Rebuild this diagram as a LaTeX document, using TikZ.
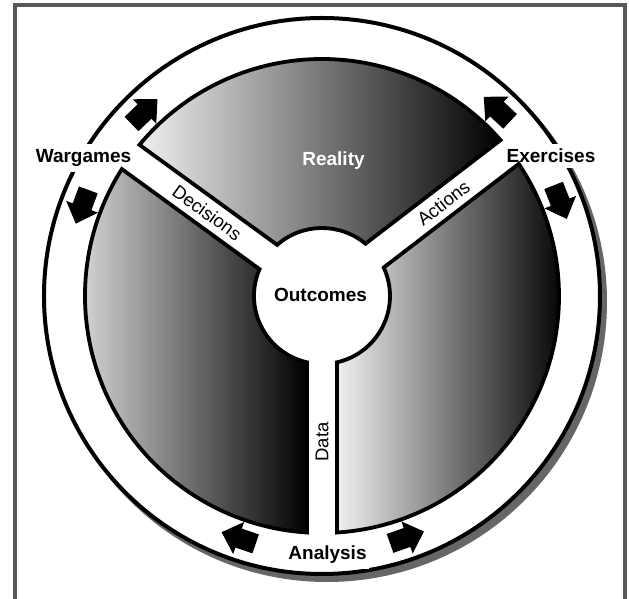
\documentclass[tikz,border=0pt]{standalone}
\usepackage{fontspec}
\setmainfont{Liberation Sans}

\begin{document}
\begin{tikzpicture}[
        x=1pt, y=1pt,
        frame/.style={draw=black!65, line width=3.5pt},
        ring/.style={draw=black, line width=4pt, fill=white},
        ringshadow/.style={fill=black!60},
        sector/.style={draw=black, line width=3.8pt, left color=black!6, right color=black},
        blockarrow/.style={fill=black},
        ringlabel/.style={fill=white, inner xsep=2pt, inner ysep=5pt, font=\bfseries\fontsize{19}{22}\selectfont},
        bigtext/.style={font=\bfseries\fontsize{19}{22}\selectfont},
        spoketext/.style={inner sep=1pt, font=\fontsize{18.5}{21}\selectfont}
    ]
    \useasboundingbox (-322,-303) rectangle (307,296);
    \draw[frame] (-307,-310) -- (-307,291) -- (303,291) -- (303,-310);

    % outer ring with its shadow
    \fill[ringshadow] (5,-6) circle (280);
    \draw[ring] (0,0) circle (278);

    \node[ringlabel] (wargames) at (-238.5,138) {Wargames};
    \node[ringlabel] (exercises) at (229,140) {Exercises};
    \node[ringlabel] (analysis) at (5.5,-259) {Analysis};

    % the three shaded sectors, cut by the spokes and the hub
    \foreach \from/\to in {37.5/144, 144/270, 270/397.5} {
        \pgfmathsetmacro{\ia}{\from+asin(15/68)}
        \pgfmathsetmacro{\oa}{\from+asin(15/237)}
        \pgfmathsetmacro{\ob}{\to-asin(15/237)}
        \pgfmathsetmacro{\ib}{\to-asin(15/68)}
        \draw[sector] (\ia:68) -- (\oa:237)
            arc[start angle=\oa, end angle=\ob, radius=237]
            -- (\ib:68) arc[start angle=\ib, end angle=\ia, radius=68] -- cycle;
    }

    % block arrows along the ring (-1 clockwise, 1 counter-clockwise)
    \foreach \ang/\dir in {133.9/-1, 159.6/1, 46.9/1, 21.5/-1, 251/-1, 289.4/1}
        \fill[blockarrow, shift={(\ang:256)}, rotate={\ang+\dir*90}]
            (-18,-10) -- (0,-10) -- (0,-17) -- (18,0) -- (0,17) -- (0,10) -- (-18,10) -- cycle;

    \node[bigtext, text=white] (reality) at (11.5,135) {Reality};
    \node[bigtext] (outcomes) at (-1.5,1) {Outcomes};
    \node[spoketext, rotate=-36] (decisions) at (144:142) {Decisions};
    \node[spoketext, rotate=37.5] (actions) at (37.5:153) {Actions};
    \node[spoketext, rotate=90] (data) at (270:146) {Data};
\end{tikzpicture}
\end{document}
